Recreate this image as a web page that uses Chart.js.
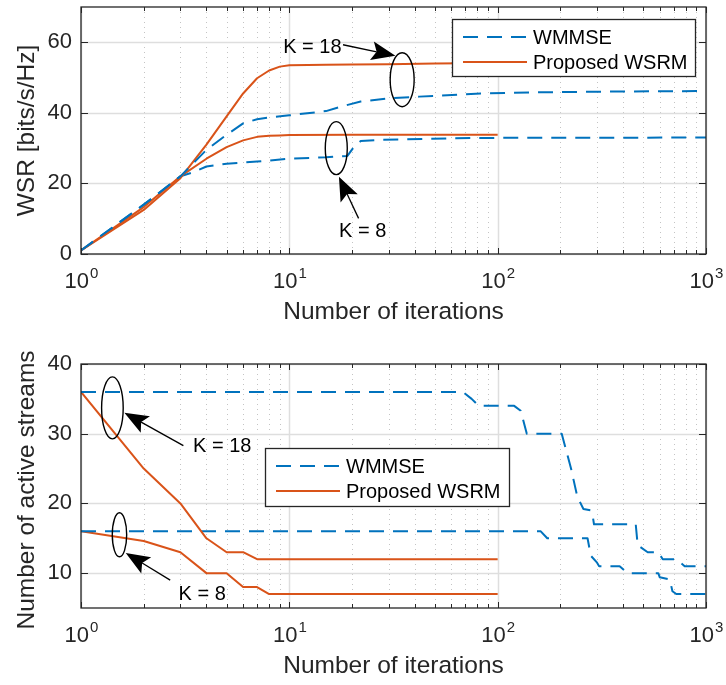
<!DOCTYPE html>
<html>
<head>
<meta charset="utf-8">
<script src="https://cdn.jsdelivr.net/npm/chart.js@4.4.1/dist/chart.umd.min.js"></script>
<style>
  body { margin: 0; background: #fff; }
  #wrap { position: relative; width: 726px; height: 685px; }
  canvas { position: absolute; left: 0; }
</style>
</head>
<body>
<div id="wrap">
  <canvas id="wsrChart" width="726" height="340" style="top:0"></canvas>
  <canvas id="streamChart" width="726" height="345" style="top:340px"></canvas>
</div>
<script>
// ---- data ----
const decades = [1, 10, 100, 1000];
const minorMult = [2, 3, 4, 5, 6, 7, 8, 9];
const wsrTicksY = [0, 20, 40, 60];
const streamTicksY = [10, 20, 30, 40];

// top: weighted sum rate vs iterations
const wsrWmmse18X = [1, 2, 3, 4, 5, 6, 7, 8, 10, 15, 17.5, 22, 30, 42, 83, 150, 300, 1000];
const wsrWmmse18Y = [1, 14, 22, 29.5, 33.8, 37, 38.2, 38.7, 39.3, 40.5, 41.7, 43.2, 44.1, 44.6, 45.5, 45.8, 46, 46.2];
const wsrProp18X = [1, 2, 3, 4, 5, 6, 7, 8, 9, 10, 15, 20, 30, 50, 100];
const wsrProp18Y = [1, 12.5, 21.5, 31, 39, 45.5, 49.8, 52, 53.1, 53.5, 53.6, 53.7, 53.8, 54, 54.1];
const wsrWmmse8X = [1, 2, 3, 3.5, 4, 5, 7, 10, 15, 19, 20.5, 22, 28, 80, 1000];
const wsrWmmse8Y = [1, 14, 22, 23.3, 24.8, 25.6, 26.2, 27, 27.4, 27.8, 30.5, 32, 32.4, 32.9, 33];
const wsrProp8X = [1, 2, 3, 4, 5, 6, 7, 8, 9, 10, 20, 50, 100];
const wsrProp8Y = [1, 13.3, 22, 27, 30.3, 32.2, 33.2, 33.5, 33.6, 33.7, 33.8, 33.8, 33.8];

// bottom: number of active streams vs iterations
const actWmmse18X = [1, 68, 75, 81, 120, 129, 138, 203, 225, 241, 258, 280, 286, 290, 460, 470, 525, 590, 620, 720, 790, 1000];
const actWmmse18Y = [36, 36, 35, 34, 34, 33.3, 30, 30, 25, 21, 19.2, 19, 18.2, 17, 17, 14, 13, 13, 12, 12, 11, 11];
const actProp18X = [1, 2, 3, 4, 5, 6, 7, 8, 9, 10, 20, 50, 100];
const actProp18Y = [36, 25, 20, 15, 13, 13, 12, 12, 12, 12, 12, 12, 12];
const actWmmse8X = [1, 161, 173, 270, 280, 300, 307, 385, 420, 590, 600, 670, 690, 720, 1000];
const actWmmse8Y = [16, 16, 15, 15, 12.5, 11.5, 11, 11, 10, 10, 9.4, 9.1, 7.4, 7, 7];
const actProp8X = [1, 2, 3, 4, 5, 6, 7, 8, 9, 10, 20, 50, 100];
const actProp8Y = [16, 14.6, 13, 10, 10, 8, 8, 7, 7, 7, 7, 7, 7];

const blue = '#0072BD';
const orange = '#D95319';
const axisColor = '#262626';
const fontFamily = "'Liberation Sans', Arial, Helvetica, sans-serif";

function series(label, xs, ys, dashed) {
  return {
    label: label,
    data: xs.map((x, i) => ({ x: x, y: ys[i] })),
    borderColor: dashed ? blue : orange,
    borderWidth: 2,
    borderDash: dashed ? [15, 9] : [],
    borderJoinStyle: 'round',
    pointRadius: 0,
    tension: 0,
    fill: false
  };
}

function arrow(ctx, x1, y1, x2, y2) {
  const ang = Math.atan2(y2 - y1, x2 - x1);
  const L = 24, W = 9.5;
  const c = Math.cos(ang), s = Math.sin(ang);
  const bx = x2 - L * c, by = y2 - L * s;
  const nx = x2 - 0.8 * L * c, ny = y2 - 0.8 * L * s;
  ctx.beginPath();
  ctx.moveTo(x1, y1);
  ctx.lineTo(nx, ny);
  ctx.stroke();
  ctx.beginPath();
  ctx.moveTo(x2, y2);
  ctx.lineTo(bx + W * s, by - W * c);
  ctx.lineTo(nx, ny);
  ctx.lineTo(bx - W * s, by + W * c);
  ctx.closePath();
  ctx.fill();
}

function axesPlugin(cfg) {
  return {
    id: 'matlabAxes',
    beforeDatasetsDraw(chart) {
      const { ctx, chartArea: a, scales: { x, y } } = chart;
      ctx.save();
      ctx.lineWidth = 1;
      // minor log grid, dotted
      ctx.strokeStyle = '#c4c4c4';
      ctx.setLineDash([1, 4]);
      decades.slice(0, 3).forEach(d => minorMult.forEach(m => {
        const px = Math.round(x.getPixelForValue(d * m)) + 0.5;
        ctx.beginPath(); ctx.moveTo(px, a.top); ctx.lineTo(px, a.bottom); ctx.stroke();
      }));
      ctx.setLineDash([]);
      ctx.strokeStyle = '#dedede';
      ctx.lineWidth = 1.5;
      decades.forEach(d => {
        const px = Math.round(x.getPixelForValue(d)) + 0.5;
        ctx.beginPath(); ctx.moveTo(px, a.top); ctx.lineTo(px, a.bottom); ctx.stroke();
      });
      cfg.yTicks.forEach(v => {
        const py = Math.round(y.getPixelForValue(v)) + 0.5;
        ctx.beginPath(); ctx.moveTo(a.left, py); ctx.lineTo(a.right, py); ctx.stroke();
      });
      ctx.restore();
    },
    afterDatasetsDraw(chart) {
      const { ctx, chartArea: a, scales: { x, y } } = chart;
      ctx.save();
      // box and inward ticks
      ctx.strokeStyle = axisColor;
      ctx.lineWidth = 1.3;
      ctx.strokeRect(a.left, a.top, a.right - a.left, a.bottom - a.top);
      ctx.lineWidth = 1;
      decades.forEach((d, i) => {
        const ms = i < 3 ? [1].concat(minorMult) : [1];
        ms.forEach(m => {
          const px = Math.round(x.getPixelForValue(d * m)) + 0.5;
          const len = m === 1 ? 6 : 4;
          ctx.beginPath();
          ctx.moveTo(px, a.bottom); ctx.lineTo(px, a.bottom - len);
          ctx.moveTo(px, a.top); ctx.lineTo(px, a.top + len);
          ctx.stroke();
        });
      });
      cfg.yTicks.forEach(v => {
        const py = Math.round(y.getPixelForValue(v)) + 0.5;
        ctx.beginPath();
        ctx.moveTo(a.left, py); ctx.lineTo(a.left + 7, py);
        ctx.moveTo(a.right, py); ctx.lineTo(a.right - 7, py);
        ctx.stroke();
      });

      // tick labels
      ctx.fillStyle = axisColor;
      ctx.font = '22px ' + fontFamily;
      ctx.textAlign = 'right';
      ctx.textBaseline = 'middle';
      cfg.yTicks.forEach(v => ctx.fillText(String(v), a.left - 9, y.getPixelForValue(v)));
      ctx.textAlign = 'left';
      ctx.textBaseline = 'alphabetic';
      decades.forEach((d, i) => {
        ctx.font = '22px ' + fontFamily;
        const wb = ctx.measureText('10').width;
        ctx.font = '15px ' + fontFamily;
        const we = ctx.measureText(String(i)).width;
        const px = x.getPixelForValue(d) - (wb + we) / 2;
        const base = a.bottom + 34;
        ctx.font = '22px ' + fontFamily;
        ctx.fillText('10', px, base);
        ctx.font = '15px ' + fontFamily;
        ctx.fillText(String(i), px + wb + 1, base - 10);
      });

      // axis titles
      ctx.font = '24.5px ' + fontFamily;
      ctx.textAlign = 'center';
      ctx.textBaseline = 'middle';
      ctx.fillText('Number of iterations', (a.left + a.right) / 2, a.bottom + 58);
      ctx.save();
      ctx.translate(27, (a.top + a.bottom) / 2 + cfg.yTitleShift);
      ctx.rotate(-Math.PI / 2);
      ctx.fillText(cfg.yTitle, 0, 0);
      ctx.restore();

      // annotations: ellipses, arrows, labels
      ctx.strokeStyle = '#000';
      ctx.fillStyle = '#000';
      ctx.lineWidth = 1.4;
      cfg.ellipses.forEach(e => {
        ctx.beginPath();
        ctx.ellipse(x.getPixelForValue(e.x), y.getPixelForValue(e.y), e.rx, e.ry, 0, 0, Math.PI * 2);
        ctx.stroke();
      });
      ctx.lineWidth = 1.3;
      cfg.arrows.forEach(r => arrow(ctx,
        x.getPixelForValue(r.x1), y.getPixelForValue(r.y1),
        x.getPixelForValue(r.x2), y.getPixelForValue(r.y2)));
      ctx.font = '20px ' + fontFamily;
      ctx.textBaseline = 'middle';
      cfg.notes.forEach(n => {
        ctx.textAlign = n.align;
        ctx.fillText(n.text, x.getPixelForValue(n.x), y.getPixelForValue(n.y));
      });

      // legend
      const L = cfg.legend;
      ctx.fillStyle = '#fff';
      ctx.fillRect(L.left, L.top, L.width, L.height);
      ctx.strokeStyle = axisColor;
      ctx.lineWidth = 1.3;
      ctx.strokeRect(L.left + 0.5, L.top + 0.5, L.width, L.height);
      const seen = [];
      chart.data.datasets.forEach(ds => {
        if (seen.indexOf(ds.label) >= 0) return;
        const row = L.top + 18 + seen.length * 25;
        seen.push(ds.label);
        ctx.strokeStyle = ds.borderColor;
        ctx.lineWidth = ds.borderWidth;
        ctx.setLineDash(ds.borderDash);
        ctx.beginPath(); ctx.moveTo(L.left + 11, row); ctx.lineTo(L.left + 75, row); ctx.stroke();
        ctx.setLineDash([]);
        ctx.fillStyle = '#000';
        ctx.font = '20px ' + fontFamily;
        ctx.textAlign = 'left';
        ctx.textBaseline = 'middle';
        ctx.fillText(ds.label, L.left + 81, row + 1);
      });
      ctx.restore();
    }
  };
}

function makeChart(id, datasets, yMin, yMax, padTop, xHeight, cfg) {
  return new Chart(document.getElementById(id), {
    type: 'line',
    data: { datasets: datasets },
    options: {
      responsive: false,
      animation: false,
      events: [],
      layout: { padding: { top: padTop, right: 20, left: 0, bottom: 0 } },
      plugins: { legend: { display: false }, tooltip: { enabled: false } },
      scales: {
        x: {
          type: 'logarithmic', min: 1, max: 1000,
          ticks: { display: false }, grid: { display: false }, border: { display: false },
          afterFit(s) { s.height = xHeight; }
        },
        y: {
          type: 'linear', min: yMin, max: yMax,
          ticks: { display: false }, grid: { display: false }, border: { display: false },
          afterFit(s) { s.width = 81; }
        }
      }
    },
    plugins: [axesPlugin(cfg)]
  });
}

document.addEventListener('DOMContentLoaded', () => {
  makeChart('wsrChart', [
    series('WMMSE', wsrWmmse18X, wsrWmmse18Y, true),
    series('Proposed WSRM', wsrProp18X, wsrProp18Y, false),
    series('WMMSE', wsrWmmse8X, wsrWmmse8Y, true),
    series('Proposed WSRM', wsrProp8X, wsrProp8Y, false)
  ], 0, 70, 7, 86, {
    yTicks: wsrTicksY,
    yTitle: 'WSR [bits/s/Hz]',
    yTitleShift: 0,
    ellipses: [{ x: 34.8, y: 49.4, rx: 12, ry: 27 }, { x: 16.8, y: 30, rx: 11, ry: 26.5 }],
    arrows: [{ x1: 18.1, y1: 59.3, x2: 32.3, y2: 56.2 }, { x1: 21.5, y1: 10.1, x2: 17.3, y2: 21.9 }],
    notes: [{ text: 'K = 18', x: 17.8, y: 58.6, align: 'right' }, { text: 'K = 8', x: 22.5, y: 6.3, align: 'center' }],
    legend: { left: 452, top: 19, width: 243, height: 57 }
  });

  makeChart('streamChart', [
    series('WMMSE', actWmmse18X, actWmmse18Y, true),
    series('Proposed WSRM', actProp18X, actProp18Y, false),
    series('WMMSE', actWmmse8X, actWmmse8Y, true),
    series('Proposed WSRM', actProp8X, actProp8Y, false)
  ], 5, 40, 24, 77, {
    yTicks: streamTicksY,
    yTitle: 'Number of active streams',
    yTitleShift: 4,
    ellipses: [{ x: 1.415, y: 33.7, rx: 10.8, ry: 31 }, { x: 1.53, y: 15.5, rx: 7.2, ry: 22 }],
    arrows: [{ x1: 3.1, y1: 28.3, x2: 1.615, y2: 33 }, { x1: 2.68, y1: 9.0, x2: 1.64, y2: 12.9 }],
    notes: [{ text: 'K = 18', x: 3.45, y: 28.1, align: 'left' }, { text: 'K = 8', x: 2.94, y: 6.9, align: 'left' }],
    legend: { left: 265, top: 108, width: 244, height: 58 }
  });
});
</script>
</body>
</html>
